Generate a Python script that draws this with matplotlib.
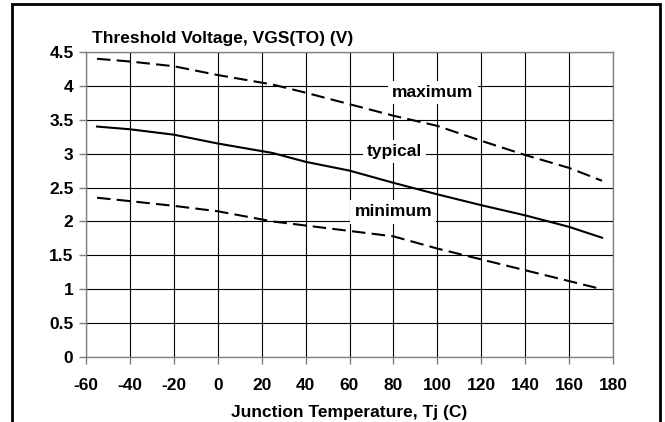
import matplotlib
matplotlib.use('Agg')
import matplotlib.pyplot as plt
from matplotlib.patches import Rectangle

plt.rcParams['font.family'] = ['Liberation Sans', 'DejaVu Sans']

temp = [-55, -40, -20, 0, 25, 40, 60, 80, 100, 120, 140, 160, 175]
v_max = [4.40, 4.36, 4.29, 4.16, 4.02, 3.90, 3.73, 3.56, 3.41, 3.19, 2.98, 2.79, 2.60]
v_typ = [3.40, 3.36, 3.28, 3.15, 3.01, 2.88, 2.75, 2.57, 2.40, 2.24, 2.09, 1.92, 1.76]
v_min = [2.35, 2.30, 2.23, 2.15, 2.00, 1.94, 1.86, 1.78, 1.60, 1.44, 1.28, 1.12, 1.00]

x_ticks = list(range(-60, 181, 20))
y_ticks = [0, 0.5, 1, 1.5, 2, 2.5, 3, 3.5, 4, 4.5]

fs = 12.5

fig = plt.figure(figsize=(6.65, 4.22), dpi=100)
ax = fig.add_axes([86/665, 1 - 357/422, (613 - 86)/665, (357 - 52)/422])

ax.plot(temp, v_max, color='black', lw=1.5, dashes=(6.5, 3))
ax.plot(temp, v_typ, color='black', lw=1.5)
ax.plot(temp, v_min, color='black', lw=1.5, dashes=(6.5, 3))

ax.set_xlim(-60, 180)
ax.set_ylim(0, 4.5)
ax.set_xticks(x_ticks)
ax.set_yticks(y_ticks)
ax.set_xticklabels([str(t) for t in x_ticks], fontsize=fs, fontweight='bold')
ax.set_yticklabels([f'{t:g}' for t in y_ticks], fontsize=fs, fontweight='bold')
ax.tick_params(direction='out', length=5, width=1, color='#808080')
ax.tick_params(axis='x', pad=10)
ax.tick_params(axis='y', pad=4)
ax.grid(True, color='black', lw=0.8)
ax.set_axisbelow(True)
for s in ax.spines.values():
    s.set_color('#808080')
    s.set_linewidth(1)

box = dict(facecolor='white', edgecolor='none', pad=3)
ax.text(98, 3.9, 'maximum', ha='center', va='center', fontsize=fs, fontweight='bold', bbox=box)
ax.text(80.5, 3.03, 'typical', ha='center', va='center', fontsize=fs, fontweight='bold', bbox=box)
ax.text(80, 2.14, 'minimum', ha='center', va='center', fontsize=fs, fontweight='bold', bbox=box)

fig.text(92/665, 1 - 38/422, 'Threshold Voltage, VGS(TO) (V)', ha='left', va='center',
         fontsize=fs, fontweight='bold')
fig.text(349/665, 1 - 412/422, 'Junction Temperature, Tj (C)', ha='center', va='center',
         fontsize=fs, fontweight='bold')

fig.patches.append(Rectangle((12/665, -0.05), (660 - 12)/665, 1 - 4/422 + 0.05,
                             transform=fig.transFigure, fill=False, edgecolor='black', lw=2))

plt.savefig('out.png', dpi=100)
